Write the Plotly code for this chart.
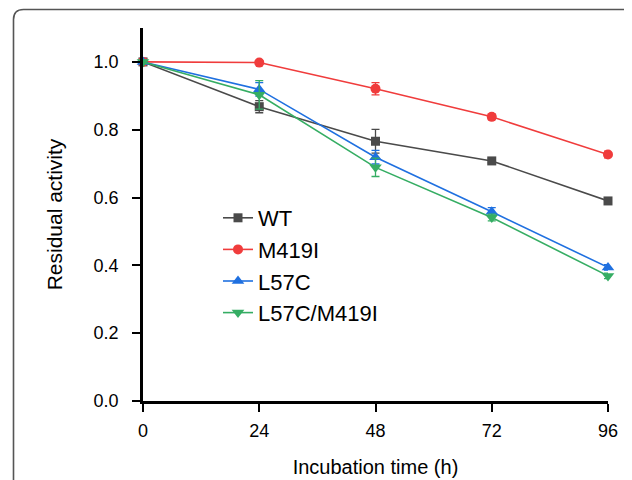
import plotly.graph_objects as go

time_h = [0, 24, 48, 72, 96]
wt = [1.0, 0.868, 0.766, 0.708, 0.590]
wt_err = [0.005, 0.018, 0.035, 0.006, 0.006]
m419i = [1.0, 0.998, 0.921, 0.838, 0.727]
m419i_err = [0.005, 0.005, 0.018, 0.008, 0.01]
l57c = [1.0, 0.919, 0.719, 0.558, 0.394]
l57c_err = [0.005, 0.02, 0.02, 0.012, 0.008]
l57c_m419i = [1.0, 0.903, 0.689, 0.541, 0.369]
l57c_m419i_err = [0.005, 0.042, 0.027, 0.01, 0.008]

series = [
    ("WT", wt, wt_err, "#4a4a4a", "square", 9),
    ("M419I", m419i, m419i_err, "#f03c3c", "circle", 10),
    ("L57C", l57c, l57c_err, "#1f70e0", "triangle-up", 11),
    ("L57C/M419I", l57c_m419i, l57c_m419i_err, "#35ad63", "triangle-down", 11),
]

fig = go.Figure()
for name, ys, es, col, sym, ms in series:
    fig.add_trace(go.Scatter(
        x=time_h, y=ys, name=name, mode="lines+markers",
        line=dict(color=col, width=1.6),
        marker=dict(symbol=sym, size=ms, color=col),
        error_y=dict(type="data", array=es, visible=True, color=col, thickness=1.3, width=4),
        cliponaxis=False,
    ))

# page body has an 8px margin; figure coordinates below compensate for it
L, R, T, B = 135, 32, 20, 87
pw, ph = 632 - L - R, 480 - T - B
def px(x): return (x - L) / pw
def py(y): return (480 - B - y) / ph
rx, ry = 10 / pw, 10 / ph
x0, x1, y0, y1 = px(5.5), px(633), py(1.5), py(490)
path = (f"M {x0},{y1} L {x0},{y0 - ry} Q {x0},{y0} {x0 + rx},{y0} "
        f"L {x1 - rx},{y0} Q {x1},{y0} {x1},{y0 - ry} L {x1},{y1}")

fig.update_layout(
    width=632, height=480,
    margin=dict(l=L, r=R, t=T, b=B),
    paper_bgcolor="white", plot_bgcolor="white",
    font=dict(family="Liberation Sans, Arial, sans-serif", color="black", size=18),
    showlegend=True,
    legend=dict(x=px(210), y=py(189), xanchor="left", yanchor="top",
                font=dict(size=22), bgcolor="rgba(0,0,0,0)",
                tracegroupgap=0),
    xaxis=dict(range=[0, 96], tickvals=time_h, ticktext=[str(t) for t in time_h],
               showgrid=False, zeroline=False, showline=True, linecolor="black", linewidth=2.5,
               ticks="outside", ticklen=8, tickwidth=2, tickcolor="black",
               ticklabelstandoff=4,
               title=dict(text="Incubation time (h)", font=dict(size=20), standoff=20),
               tickfont=dict(size=18)),
    yaxis=dict(range=[0, 1.1], tickvals=[0, 0.2, 0.4, 0.6, 0.8, 1.0],
               ticktext=["0.0", "0.2", "0.4", "0.6", "0.8", "1.0"],
               showgrid=False, zeroline=False, showline=True, linecolor="black", linewidth=2.5,
               ticks="outside", ticklen=8, tickwidth=2, tickcolor="black",
               ticklabelstandoff=10,
               title=dict(text="Residual activity", font=dict(size=21), standoff=26),
               tickfont=dict(size=18)),
    shapes=[dict(type="path", xref="paper", yref="paper", path=path,
                 line=dict(color="#555555", width=1.6), layer="above")],
)

fig.write_html("out.html")
